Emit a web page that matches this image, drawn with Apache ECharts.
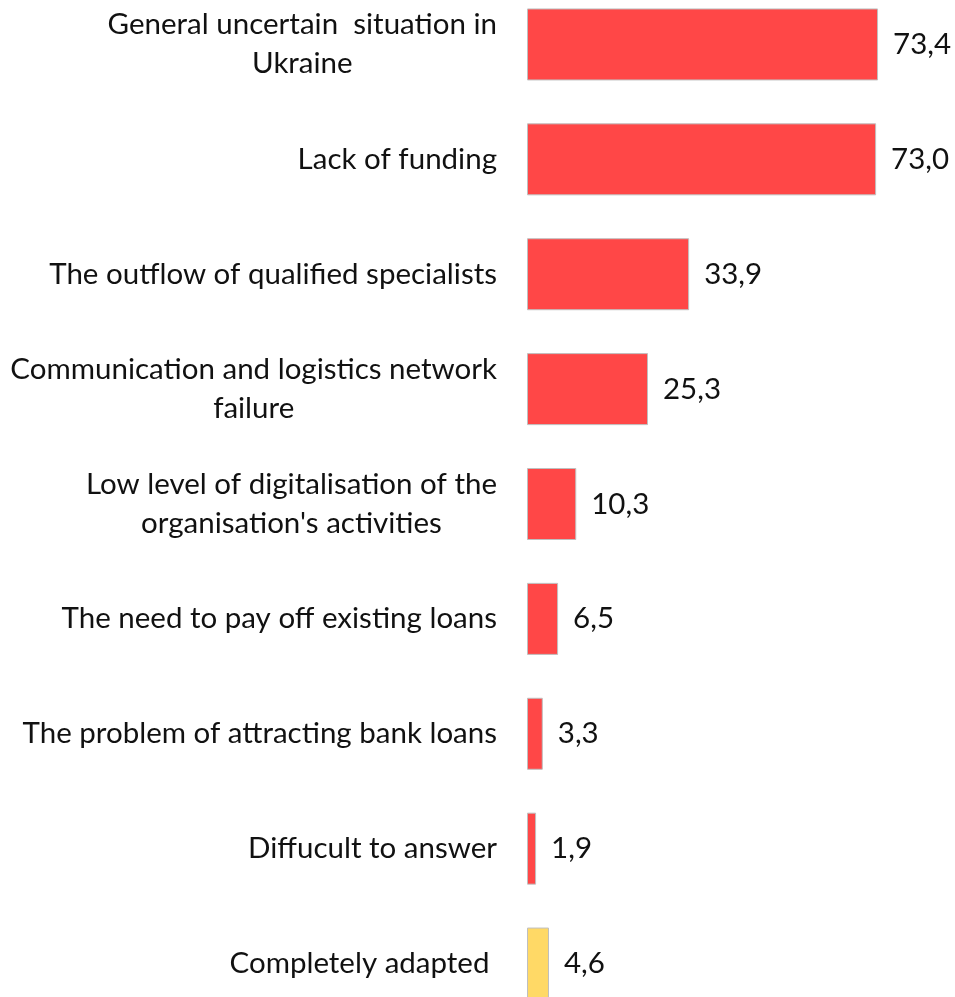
<!DOCTYPE html>
<html>
<head>
<meta charset="utf-8">
<script src="https://cdn.jsdelivr.net/npm/echarts@6/dist/echarts.min.js"></script>
<style>
  html, body { margin: 0; padding: 0; background: #ffffff; overflow: hidden; width: 955px; height: 997px; position: relative; }
  /* plot area runs a little past the top and bottom edges of the page */
  #chart { position: absolute; left: 0; top: -13.4px; width: 955px; height: 1034px; }
</style>
</head>
<body>
<div id="chart"></div>
<script>
// Obstacles, top to bottom
const categories = [
  'General uncertain  situation in\nUkraine',
  'Lack of funding',
  'The outflow of qualified specialists',
  'Communication and logistics network\nfailure',
  'Low level of digitalisation of the\norganisation\'s activities',
  'The need to pay off existing loans',
  'The problem of attracting bank loans',
  'Diffucult to answer',
  'Completely adapted '
];
const values = [73.4, 73.0, 33.9, 25.3, 10.3, 6.5, 3.3, 1.9, 4.6];
const barColors = ['#FF4747', '#FF4747', '#FF4747', '#FF4747', '#FF4747', '#FF4747', '#FF4747', '#FF4747', '#FFD966'];

const FONT = 'Lato';
const FS = 29.5;

const chart = echarts.init(document.getElementById('chart'), null, { renderer: 'canvas' });

chart.setOption({
  animation: false,
  backgroundColor: '#ffffff',
  grid: { left: 527, right: 45.4, top: 0, bottom: 0, containLabel: false },
  xAxis: {
    type: 'value', min: 0, max: 80, show: false
  },
  yAxis: {
    type: 'category',
    inverse: true,
    data: categories,
    axisLine: { show: false },
    axisTick: { show: false },
    splitLine: { show: false },
    axisLabel: {
      margin: 30,
      color: '#111111',
      fontFamily: FONT,
      fontSize: FS,
      align: 'right',
      formatter: v => v.split('\n').map(l => '{c|' + l + '}').join('\n'),
      rich: {
        c: { align: 'center', fontFamily: FONT, fontSize: FS, lineHeight: 39, color: '#111111' }
      }
    }
  },
  series: [{
    type: 'bar',
    data: values.map((v, i) => ({ value: v, itemStyle: { color: barColors[i] } })),
    barWidth: 72,
    itemStyle: { borderColor: '#BFBFBF', borderWidth: 1 },
    label: {
      show: true,
      position: 'right',
      distance: 15,
      color: '#111111',
      fontFamily: FONT,
      fontSize: FS,
      formatter: p => p.value.toFixed(1).replace('.', ',')
    }
  }]
});
</script>
</body>
</html>
